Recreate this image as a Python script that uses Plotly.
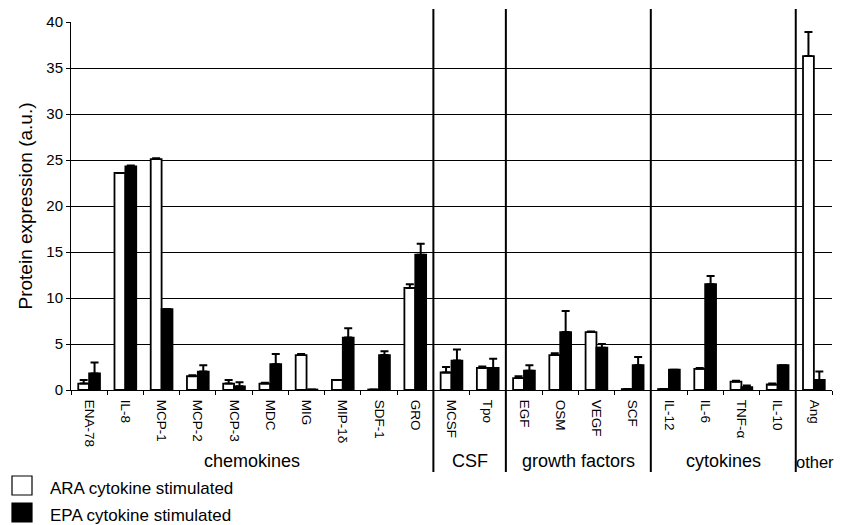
import plotly.graph_objects as go

categories = ["ENA-78", "IL-8", "MCP-1", "MCP-2", "MCP-3", "MDC", "MIG", "MIP-1δ", "SDF-1", "GRO",
              "MCSF", "Tpo",
              "EGF", "OSM", "VEGF", "SCF",
              "IL-12", "IL-6", "TNF-α", "IL-10",
              "Ang"]
ara = [0.7, 23.6, 25.1, 1.5, 0.7, 0.7, 3.8, 1.1, 0.05, 11.1,
       1.9, 2.4,
       1.3, 3.8, 6.3, 0.1,
       0.1, 2.3, 0.9, 0.6,
       36.3]
ara_err = [0.4, 0.0, 0.1, 0.1, 0.4, 0.1, 0.1, 0.0, 0.0, 0.4,
           0.6, 0.15,
           0.2, 0.2, 0.05, 0.0,
           0.0, 0.1, 0.1, 0.1,
           2.6]
epa = [1.8, 24.3, 8.8, 2.0, 0.4, 2.8, 0.05, 5.7, 3.8, 14.7,
       3.2, 2.4,
       2.1, 6.3, 4.6, 2.7,
       2.2, 11.5, 0.3, 2.7,
       1.1]
epa_err = [1.2, 0.1, 0.0, 0.7, 0.45, 1.1, 0.0, 1.0, 0.4, 1.2,
           1.2, 1.0,
           0.6, 2.3, 0.4, 0.9,
           0.0, 0.9, 0.2, 0.0,
           0.9]
groups = ["chemokines", "CSF", "growth factors", "cytokines", "other"]
group_sizes = [10, 2, 4, 4, 1]
series_names = ["ARA cytokine stimulated", "EPA cytokine stimulated"]

FONT = "Arial, Liberation Sans, sans-serif"
OFF = 8  # page body margin of the html page
W, H = 842 - OFF, 525 - OFF
L, R, T = 71 - OFF, 10, 22 - OFF
PH = 368
B = H - T - PH
PW = W - L - R


def px_x(x):
    # page pixel -> paper fraction
    return (x - OFF - L) / PW


def px_y(y):
    return (T + PH - (y - OFF)) / PH


fig = go.Figure()
fig.add_trace(go.Bar(
    x=categories, y=ara, name=series_names[0],
    marker=dict(color="white", line=dict(color="black", width=1.8)),
    error_y=dict(type="data", symmetric=False, array=ara_err,
                 arrayminus=[0] * len(ara_err), color="black", thickness=2, width=4),
))
fig.add_trace(go.Bar(
    x=categories, y=epa, name=series_names[1],
    marker=dict(color="black", line=dict(color="black", width=1.8)),
    error_y=dict(type="data", symmetric=False, array=epa_err,
                 arrayminus=[0] * len(epa_err), color="black", thickness=2, width=4),
))

shapes = []
annotations = []
start = 0
for i, (g, n) in enumerate(zip(groups, group_sizes)):
    end = start + n
    if i < len(groups) - 1:
        shapes.append(dict(type="line", xref="x", yref="paper",
                           x0=end - 0.5, x1=end - 0.5,
                           y0=px_y(472), y1=px_y(9),
                           line=dict(color="black", width=2)))
    if g == "other":
        annotations.append(dict(x=start - 0.5, y=px_y(462), xref="x", yref="paper",
                                text=g, showarrow=False, xanchor="left", yanchor="middle",
                                xshift=-1, borderpad=0,
                                font=dict(size=16.5, color="black", family=FONT)))
    else:
        annotations.append(dict(x=(start + end - 1) / 2, y=px_y(461), xref="x", yref="paper",
                                text=g, showarrow=False, xanchor="center", yanchor="middle",
                                font=dict(size=18, color="black", family=FONT)))
    start = end

# legend (drawn manually)
legend_rows = [(476, 488, "white"), (503, 515, "black")]
for (ytop, ytext, col), name in zip(legend_rows, series_names):
    shapes.append(dict(type="rect", xref="paper", yref="paper",
                       x0=px_x(12), x1=px_x(32), y0=px_y(ytop + 19), y1=px_y(ytop),
                       fillcolor=col, line=dict(color="black", width=1.2)))
    annotations.append(dict(x=px_x(48), y=px_y(ytext), xref="paper", yref="paper",
                            text=name, showarrow=False, xanchor="left", yanchor="middle",
                            font=dict(size=17, color="black", family=FONT)))

fig.update_layout(
    width=W, height=H,
    margin=dict(l=L, r=R, t=T, b=B),
    paper_bgcolor="white", plot_bgcolor="white",
    barmode="group", bargap=0.4, bargroupgap=0.0,
    showlegend=False,
    font=dict(family=FONT, color="black"),
    shapes=shapes, annotations=annotations,
    xaxis=dict(
        type="category", showline=True, linecolor="black", linewidth=1,
        ticks="outside", ticklen=4, tickcolor="black", tickson="boundaries",
        tickangle=90, tickfont=dict(size=13.5, family=FONT, color="black"),
        ticklabelstandoff=6,
        showgrid=False, range=[-0.5, len(categories) - 0.5], automargin=False,
    ),
    yaxis=dict(
        range=[0, 40], dtick=5, showline=True, linecolor="black", linewidth=1,
        ticks="outside", ticklen=4, tickcolor="black",
        showgrid=True, gridcolor="black", gridwidth=1, zeroline=False,
        tickfont=dict(size=15, family=FONT, color="black"), automargin=False,
        title=dict(text="Protein expression (a.u.)", standoff=8,
                   font=dict(size=19, family=FONT, color="black")),
    ),
)

fig.write_html("out.html")
